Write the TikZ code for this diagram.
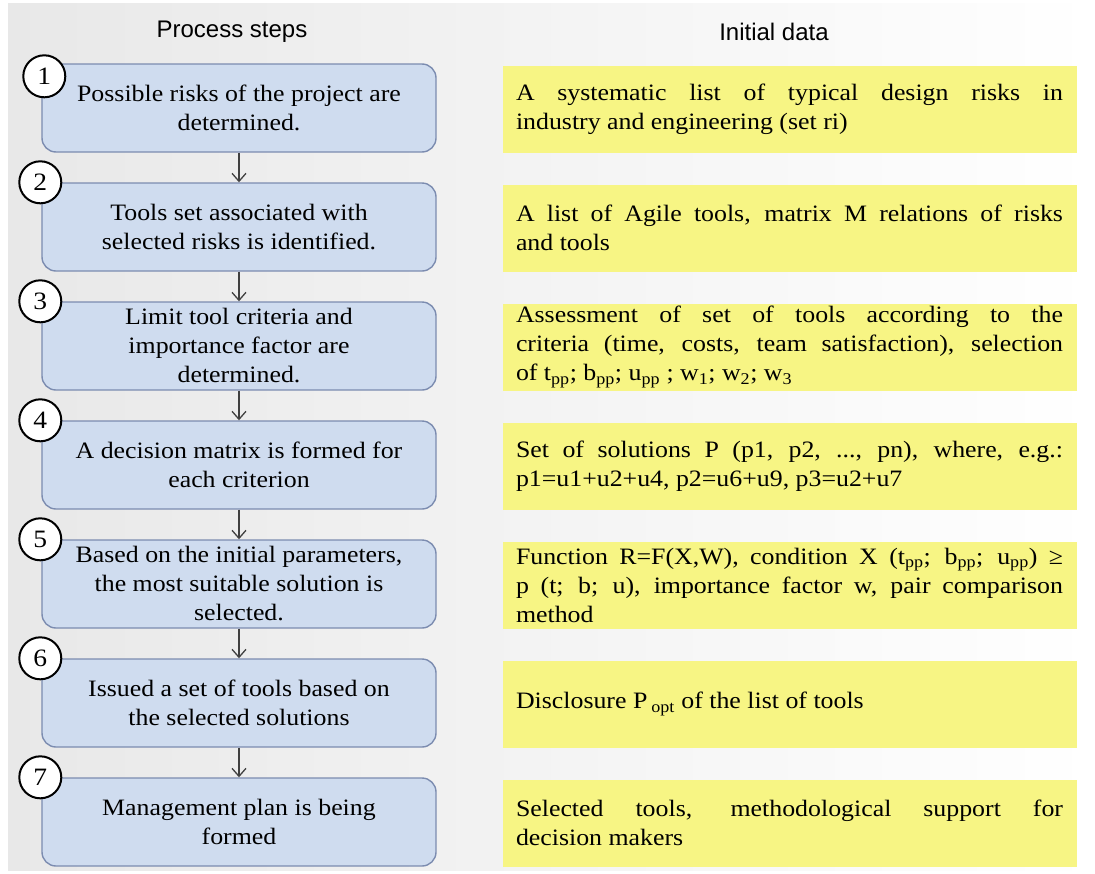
\documentclass[tikz,border=0pt]{standalone}
\usepackage{fontspec}
\setmainfont{Liberation Serif}[FakeStretch=1.1]
\setsansfont{Liberation Sans}
\usepackage{tikz}
\usetikzlibrary{positioning, arrows.meta}
\hyphenpenalty=10000
\exhyphenpenalty=10000
\definecolor{stepfill}{RGB}{207,220,239}
\definecolor{stepline}{RGB}{124,140,176}
\definecolor{datafill}{RGB}{247,245,132}
\definecolor{flowgray}{RGB}{64,64,64}
\tikzset{x=1bp, y=-1bp, node distance=29.6bp and 65.6bp}
\tikzset{stepbox/.style={draw=stepline, line width=1.4bp, fill=stepfill, rounded corners=14bp,
  minimum width=394bp, minimum height=88bp, inner sep=2bp, align=center,
  font=\fontsize{23.5bp}{29bp}\selectfont}}
\tikzset{databox/.style={fill=datafill, minimum height=87bp, text width=547bp,
  inner xsep=13.5bp, inner ysep=2bp, align=justify,
  font=\fontsize{23.5bp}{29bp}\selectfont}}
\tikzset{numcirc/.style={circle, draw=black, line width=2bp, fill=white, minimum size=42bp,
  inner sep=0pt, font=\fontsize{25bp}{25bp}\selectfont}}
\tikzset{header/.style={font=\sffamily\fontsize{24bp}{28bp}\selectfont}}
\tikzset{flow/.style={draw=flowgray, line width=1.3bp, -{Straight Barb[length=8bp,width=14bp]}}}

\begin{document}
\begin{tikzpicture}
\fill[white] (0,0) rectangle (1095,874);
\fill[left color=gray!18, right color=white] (8,3) rectangle (1095,870);
\useasboundingbox (0,0) rectangle (1095,874);

\node[header] at (232,32)(hsteps) {Process steps};
\node[header] at (774,32)(hdata) {Initial data};

\node[stepbox] at (239,108)(s1) {Possible risks of the project are\\determined.};
\node[stepbox, below=of s1](s2) {Tools set associated with\\selected risks is identified.};
\node[stepbox, below=of s2](s3) {Limit tool criteria and\\importance factor are\\determined.};
\node[stepbox, below=of s3](s4) {A decision matrix is formed for\\each criterion};
\node[stepbox, below=of s4](s5) {Based on the initial parameters,\\the most suitable solution is\\selected.};
\node[stepbox, below=of s5](s6) {Issued a set of tools based on\\the selected solutions};
\node[stepbox, below=of s6](s7) {Management plan is being\\formed};

\node[databox, right=of s1, yshift=-1bp](d1) {A systematic list of typical design risks in\linebreak industry and engineering (set ri)};
\node[databox, right=of s2, yshift=-1bp](d2) {A list of Agile tools, matrix M relations of risks\linebreak and tools};
\node[databox, right=of s3, yshift=-1bp](d3) {Assessment of set of tools according to the\linebreak criteria (time, costs, team satisfaction), selection\linebreak of t\textsubscript{pp}; b\textsubscript{pp}; u\textsubscript{pp} ; w\textsubscript{1}; w\textsubscript{2}; w\textsubscript{3}};
\node[databox, right=of s4, yshift=-1bp](d4) {Set of solutions P (p1, p2, ..., pn), where, e.g.:\linebreak p1=u1+u2+u4, p2=u6+u9, p3=u2+u7};
\node[databox, right=of s5, yshift=-1bp](d5) {Function R=F(X,W), condition X (t\textsubscript{pp}; b\textsubscript{pp}; u\textsubscript{pp}) ≥\linebreak p (t; b; u), importance factor w, pair comparison\linebreak method};
\node[databox, right=of s6, yshift=-1bp](d6) {Disclosure P\,\textsubscript{opt} of the list of tools};
\node[databox, right=of s7, yshift=-1bp](d7) {Selected tools, methodological support for\linebreak decision makers};

\node[numcirc] at ([xshift=3bp, yshift=-13bp]s1.north west)(n1) {1};
\node[numcirc] at ([xshift=-1bp]s2.north west)(n2) {2};
\node[numcirc] at ([xshift=-1bp]s3.north west)(n3) {3};
\node[numcirc] at ([xshift=-1bp]s4.north west)(n4) {4};
\node[numcirc] at ([xshift=-1bp]s5.north west)(n5) {5};
\node[numcirc] at ([xshift=-1bp]s6.north west)(n6) {6};
\node[numcirc] at ([xshift=-1bp]s7.north west)(n7) {7};

\draw[flow] (s1) -- (s2);
\draw[flow] (s2) -- (s3);
\draw[flow] (s3) -- (s4);
\draw[flow] (s4) -- (s5);
\draw[flow] (s5) -- (s6);
\draw[flow] (s6) -- (s7);
\end{tikzpicture}
\end{document}
